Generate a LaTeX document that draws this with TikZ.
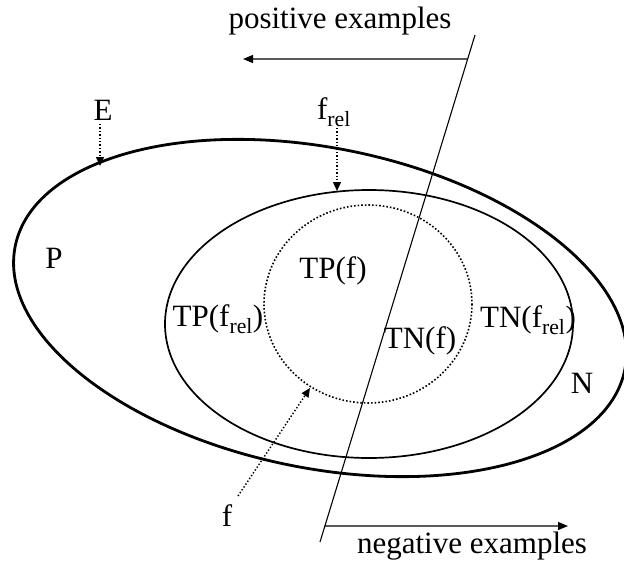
\documentclass[tikz,border=0pt]{standalone}
\usepackage{fontspec}
\setmainfont{Liberation Serif}
\usepackage{tikz}
\usetikzlibrary{arrows.meta, positioning, calc}

\tikzset{
    lbl/.style={inner sep=0pt, font=\fontsize{31}{36}\selectfont},
    ptr/.style={-{Triangle[length=9pt, width=8pt]}, line width=1.4pt, dotted},
    dir/.style={-{Triangle[length=10pt, width=8pt]}, line width=1.2pt}
}

\begin{document}
\begin{tikzpicture}[x=1pt, y=-1pt]
    \useasboundingbox (0,0) rectangle (624,565);
    % sets
    \draw[line width=2.8pt, rotate around={-11.5:(320,308)}] (320,308) ellipse [x radius=311, y radius=160];
    \draw[line width=1.7pt] (369,324) ellipse [x radius=204, y radius=134];
    \draw[line width=1.6pt, dotted] (368,304) ellipse [x radius=104, y radius=99];
    % dividing line
    \coordinate (top) at (475,35);
    \coordinate (bot) at (320,542);
    \draw[line width=1.1pt] (top) -- (bot);
    \coordinate (posstart) at ($(top)!24/507!(bot)$);
    \coordinate (posend) at (243,59);
    \coordinate (negstart) at ($(top)!491/507!(bot)$);
    \coordinate (negend) at (568,526);
    \draw[dir] (posstart) -- (posend);
    \draw[dir] (negstart) -- (negend);
    \node[lbl] (pos) at (340,21) {positive examples};
    \node[lbl] (neg) at (472,546) {negative examples};
    % labels
    \node[lbl] (E) at (103,110) {E};
    \node[lbl] (frel) at (334,112) {f\textsubscript{rel}};
    \node[lbl] (P) at (54,258) {P};
    \node[lbl] (N) at (582,383) {N};
    \node[lbl] (tpf) at (333,271) {TP(f)};
    \node[lbl] (tpfrel) at (218,319) {TP(f\textsubscript{rel})};
    \node[lbl] (tnf) at (420,341) {TN(f)};
    \node[lbl] (tnfrel) at (528,320) {TN(f\textsubscript{rel})};
    \node[lbl] (f) at (227,516) {f};
    % pointers
    \coordinate (Eon) at (100,166);
    \coordinate (frelon) at (337,191);
    \coordinate (fon) at (310,388);
    \draw[ptr] (100,124) -- (Eon);
    \draw[ptr] (337,128) -- (frelon);
    \draw[ptr] (238,496) -- (fon);
\end{tikzpicture}
\end{document}
